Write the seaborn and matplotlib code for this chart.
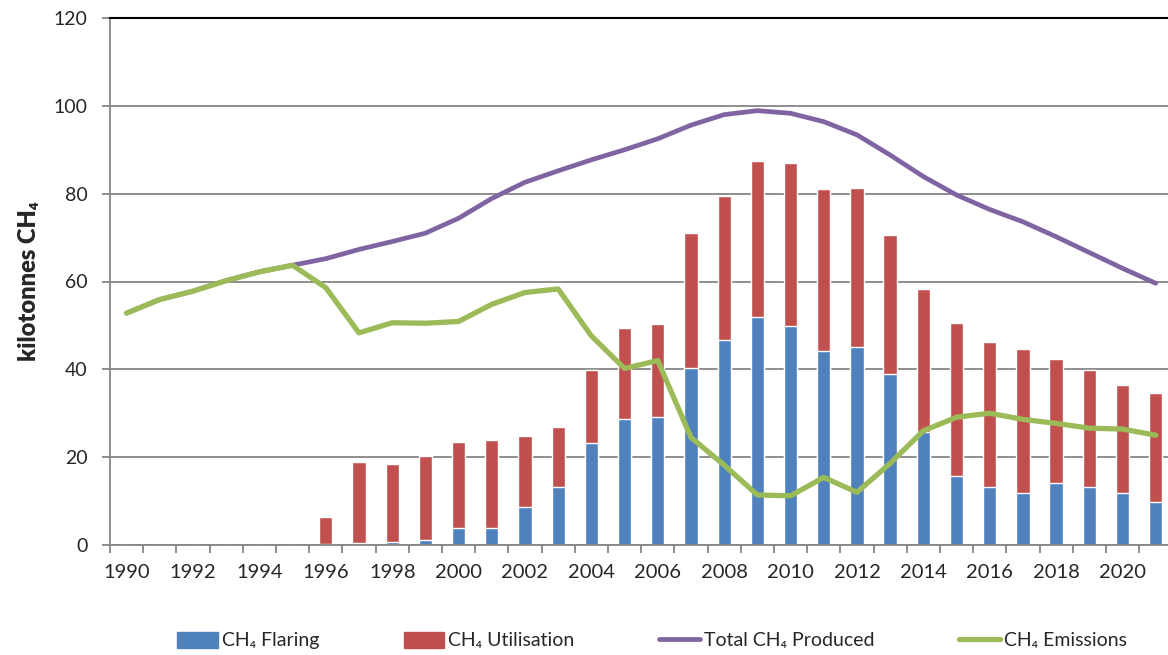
import numpy as np
import pandas as pd
import seaborn as sns
import matplotlib.pyplot as plt
from matplotlib.patches import Patch
from matplotlib.lines import Line2D

years = list(range(1990, 2022))
flaring = [0, 0, 0, 0, 0, 0, 0.3, 0.4, 0.7, 1.1, 3.8, 3.9, 8.7, 13.1, 23.2, 28.6,
           29.1, 40.4, 46.6, 52.0, 49.8, 44.1, 45.1, 39.0, 25.8, 15.6, 13.1, 11.9,
           14.2, 13.1, 11.8, 9.7]
utilisation = [0, 0, 0, 0, 0, 0, 6.1, 18.4, 17.7, 19.2, 19.7, 20.1, 16.1, 13.7, 16.7,
               20.9, 21.2, 30.6, 32.9, 35.5, 37.2, 36.9, 36.1, 31.7, 32.5, 34.9, 33.2,
               32.8, 28.1, 26.8, 24.6, 24.8]
produced = [52.8, 55.9, 57.8, 60.2, 62.2, 63.7, 65.2, 67.3, 69.1, 71.0, 74.4, 78.9,
            82.6, 85.2, 87.7, 90.0, 92.5, 95.6, 98.0, 98.9, 98.3, 96.4, 93.4, 88.8,
            83.9, 79.7, 76.4, 73.6, 70.2, 66.6, 63.0, 59.6]
emissions = [52.8, 55.9, 57.8, 60.2, 62.2, 63.7, 58.6, 48.3, 50.6, 50.5, 50.9, 54.8,
             57.5, 58.3, 47.6, 40.2, 42.0, 24.5, 18.2, 11.4, 11.2, 15.4, 12.0, 18.6,
             26.0, 29.1, 30.0, 28.6, 27.7, 26.6, 26.4, 25.0]

blue = "#4F81BD"
red = "#C0504D"
purple = "#8064A2"
green = "#9BBB59"
grid = "#868686"

df = pd.DataFrame({"year": [str(y) for y in years], "flaring": flaring,
                   "utilisation": utilisation, "produced": produced,
                   "emissions": emissions})
df["stack"] = df["flaring"] + df["utilisation"]
df["pos"] = np.arange(len(df))

sns.set_style("white")
plt.rcParams["font.family"] = ["Lato", "DejaVu Sans"]

fig = plt.figure(figsize=(11.68, 6.55), dpi=100)
ax = fig.add_axes([110 / 1168, 1 - 545 / 655, 1 - 110 / 1168, (545 - 18) / 655])

sns.barplot(data=df, x="year", y="stack", color=red, width=0.4, saturation=1, ax=ax)
sns.barplot(data=df, x="year", y="flaring", color=blue, width=0.4, saturation=1, ax=ax)
sns.lineplot(data=df, x="pos", y="produced", color=purple, lw=3.4, ax=ax)
sns.lineplot(data=df, x="pos", y="emissions", color=green, lw=3.8, ax=ax)

ax.set_xlim(-0.5, 31.37)
ax.set_ylim(0, 120)
ax.set_yticks(range(0, 121, 20))
ax.yaxis.grid(True, color=grid, lw=1.3)
ax.set_axisbelow(True)

ax.set_xticks(np.arange(0, 32, 2))
ax.set_xticklabels([str(y) for y in years[::2]])
ax.set_xticks(np.arange(-0.5, 31.5, 1), minor=True)
ax.tick_params(axis="x", which="major", length=0, labelsize=14.5, pad=14)
ax.tick_params(axis="x", which="minor", length=6, color=grid, width=1.3, bottom=True)
ax.tick_params(axis="y", length=6, color=grid, width=1.3, labelsize=14, pad=10, left=True)

for s in ["left", "bottom"]:
    ax.spines[s].set_color(grid)
    ax.spines[s].set_linewidth(1.3)
ax.spines["right"].set_visible(False)
ax.spines["top"].set_color("black")
ax.spines["top"].set_linewidth(1.5)

ax.set_xlabel("")
ax.set_ylabel("kilotonnes CH₄", fontsize=17, fontweight="heavy", labelpad=10)

handles = [Patch(color=blue, label="CH₄ Flaring"),
           Patch(color=red, label="CH₄ Utilisation"),
           Line2D([], [], color=purple, lw=3.4, label="Total CH₄ Produced"),
           Line2D([], [], color=green, lw=3.8, label="CH₄ Emissions")]
fig.legend(handles=handles, loc="center", bbox_to_anchor=(0.558, 0.022), ncol=4,
           frameon=False, fontsize=14, handlelength=2.1, handletextpad=0.2,
           columnspacing=4.35, handleheight=0.9)

fig.savefig("out.png", dpi=100)
